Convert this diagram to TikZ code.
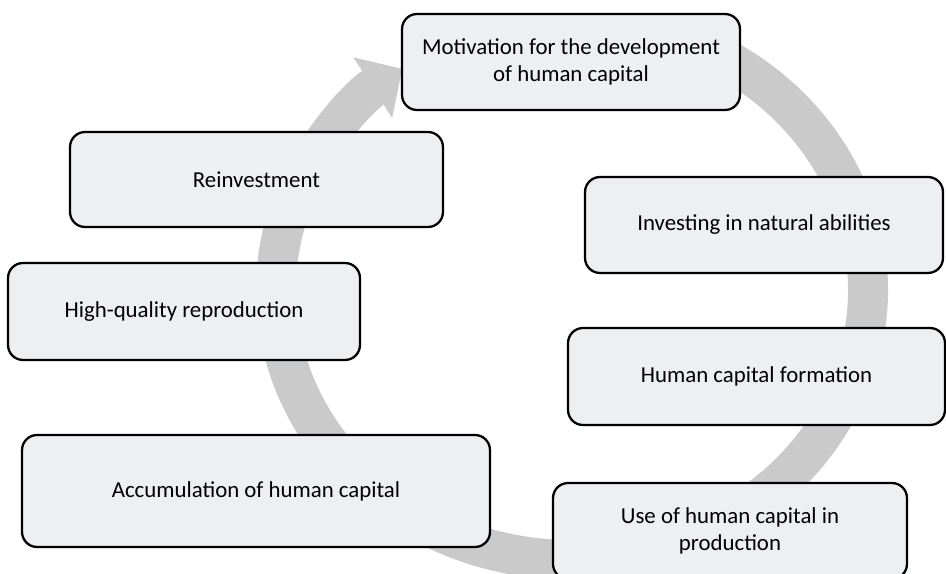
\documentclass[tikz,border=0pt]{standalone}
\usepackage{fontspec}
\setmainfont{Carlito}
\usepackage{tikz}
\usetikzlibrary{arrows.meta}

\definecolor{boxfill}{RGB}{238,239,241}
\definecolor{ringgray}{RGB}{202,202,202}

\begin{document}
\begin{tikzpicture}[x=0.02cm,y=-0.02cm,
    box/.style={draw=black,line width=1.3pt,rounded corners=0.3cm,fill=boxfill,
        align=center,inner sep=2pt,font=\fontsize{13}{15}\selectfont},
    ring/.style={draw=ringgray,line width=0.8cm,
        -{Triangle[width=1.4cm,length=0.7cm]}}]
    \useasboundingbox (0,0) rectangle (946,574);
    % the big circular arrow behind the boxes
    \coordinate (c) at (572,290);
    \draw[ring] ([shift={(65:5.92cm and 5.4cm)}]c) arc[start angle=65,end angle=-235,x radius=5.92cm,y radius=5.4cm];
    % the steps
    \node[box,minimum width=6.76cm,minimum height=1.92cm] (mot) at (571,62) {Motivation for the development\\of human capital};
    \node[box,minimum width=7.16cm,minimum height=1.92cm] (inv) at (764,225) {Investing in natural abilities};
    \node[box,minimum width=7.54cm,minimum height=1.94cm] (form) at (756.5,376.5) {Human capital formation};
    \node[box,minimum width=7.08cm,minimum height=1.92cm] (use) at (730,531) {Use of human capital in\\production};
    \node[box,minimum width=9.36cm,minimum height=2.24cm] (acc) at (256,491) {Accumulation of human capital};
    \node[box,minimum width=7.04cm,minimum height=1.94cm] (hq) at (184,311.5) {High-quality reproduction};
    \node[box,minimum width=7.46cm,minimum height=1.90cm] (reinv) at (256.5,179.5) {Reinvestment};
\end{tikzpicture}
\end{document}
